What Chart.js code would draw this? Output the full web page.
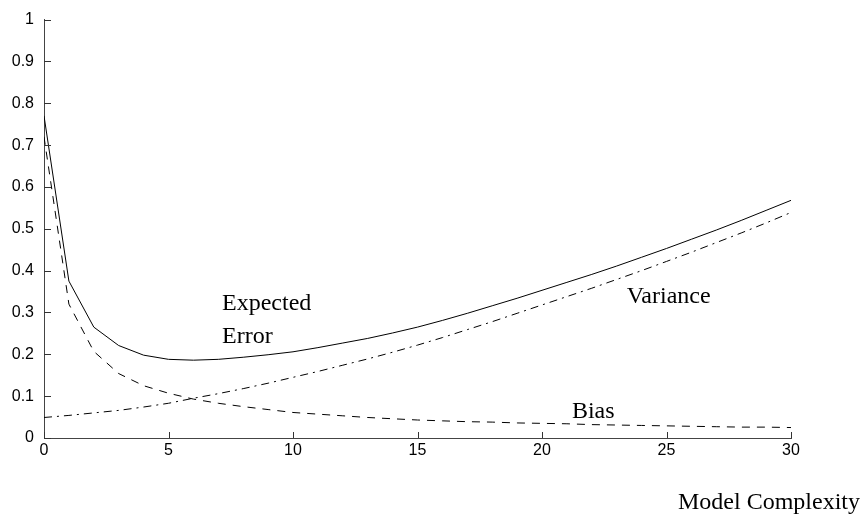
<!DOCTYPE html>
<html>
<head>
<meta charset="utf-8">
<title>Bias / Variance</title>
<script src="https://cdn.jsdelivr.net/npm/chart.js@4/dist/chart.umd.min.js"></script>
<style>
  html, body { margin: 0; padding: 0; background: #fff; }
  canvas { display: block; }
</style>
</head>
<body>
<canvas id="biasVarianceChart" width="864" height="516"></canvas>
<script>
    // Data
    const complexity = [0, 1, 2, 3, 4, 5, 6, 7, 8, 9, 10, 11, 12, 13, 14, 15,
        16, 17, 18, 19, 20, 21, 22, 23, 24, 25, 26, 27, 28, 29, 30];

    const expectedError = [0.770, 0.375, 0.265, 0.221, 0.198, 0.188, 0.186, 0.188, 0.193, 0.199,
        0.206, 0.216, 0.227, 0.238, 0.251, 0.265, 0.281, 0.298, 0.316, 0.334,
        0.353, 0.372, 0.391, 0.411, 0.432, 0.453, 0.475, 0.497, 0.520, 0.544, 0.568];

    const bias = [0.720, 0.320, 0.207, 0.154, 0.125, 0.107, 0.093, 0.083, 0.075, 0.068,
        0.061, 0.057, 0.053, 0.049, 0.046, 0.043, 0.041, 0.039, 0.038, 0.036,
        0.035, 0.034, 0.032, 0.031, 0.030, 0.029, 0.028, 0.027, 0.026, 0.026, 0.025];

    const variance = [0.049, 0.054, 0.060, 0.066, 0.074, 0.083, 0.095, 0.106, 0.118, 0.131,
        0.145, 0.159, 0.174, 0.189, 0.205, 0.222, 0.240, 0.259, 0.278, 0.298,
        0.318, 0.338, 0.358, 0.379, 0.400, 0.422, 0.444, 0.467, 0.490, 0.514, 0.539];

    const xTicks = [0, 5, 10, 15, 20, 25, 30];
    const yTicks = [0, 0.1, 0.2, 0.3, 0.4, 0.5, 0.6, 0.7, 0.8, 0.9, 1];
    const yTickLabels = ['0', '0.1', '0.2', '0.3', '0.4', '0.5', '0.6', '0.7', '0.8', '0.9', '1'];

    // Text labels placed in data coordinates
    const notes = [
        { text: 'Expected', x: 7.15, y: 0.305, align: 'left' },
        { text: 'Error', x: 7.15, y: 0.228, align: 'left' },
        { text: 'Variance', x: 23.4, y: 0.323, align: 'left' },
        { text: 'Bias', x: 21.2, y: 0.047, align: 'left' },
        { text: 'Model Complexity', x: 32.77, y: -0.169, align: 'right' }
    ];

    const toPoints = values => complexity.map((c, i) => ({ x: c, y: values[i] }));

    const axisColor = '#444';
    const tickFont = { family: '"Liberation Sans", Arial, sans-serif', size: 16 };

    // Inward tick marks + text notes
    const matlabLook = {
        id: 'matlabLook',
        afterDraw(chart) {
            const ctx = chart.ctx;
            const xs = chart.scales.x;
            const ys = chart.scales.y;
            const area = chart.chartArea;
            ctx.save();
            ctx.strokeStyle = '#333';
            ctx.lineWidth = 1;
            ctx.beginPath();
            yTicks.forEach(v => {
                const py = Math.round(ys.getPixelForValue(v)) + 0.5;
                ctx.moveTo(area.left, py);
                ctx.lineTo(area.left + 7, py);
            });
            xTicks.forEach(v => {
                const px = Math.round(xs.getPixelForValue(v)) + 0.5;
                ctx.moveTo(px, area.bottom);
                ctx.lineTo(px, area.bottom - 6);
            });
            ctx.stroke();

            ctx.fillStyle = '#000';
            ctx.font = '24px "Liberation Serif", "Times New Roman", serif';
            ctx.textBaseline = 'alphabetic';
            notes.forEach(n => {
                ctx.textAlign = n.align;
                ctx.fillText(n.text, xs.getPixelForValue(n.x), ys.getPixelForValue(n.y));
            });
            ctx.restore();
        }
    };

    const lineStyle = {
        borderColor: '#000',
        borderWidth: 1,
        pointRadius: 0,
        tension: 0,
        fill: false
    };

    const ctx = document.getElementById('biasVarianceChart').getContext('2d');
    const chart = new Chart(ctx, {
        type: 'line',
        data: {
            datasets: [
                { ...lineStyle, label: 'Expected Error', data: toPoints(expectedError) },
                { ...lineStyle, label: 'Bias', data: toPoints(bias), borderDash: [8, 7] },
                { ...lineStyle, label: 'Variance', data: toPoints(variance), borderDash: [8, 5, 2, 5] }
            ]
        },
        options: {
            responsive: false,
            animation: false,
            devicePixelRatio: 1,
            layout: { padding: { top: 11, right: 73, bottom: 0, left: 0 } },
            plugins: {
                legend: { display: false },
                tooltip: { enabled: false }
            },
            scales: {
                x: {
                    type: 'linear',
                    min: 0,
                    max: 30,
                    afterBuildTicks: scale => { scale.ticks = xTicks.map(v => ({ value: v })); },
                    afterFit: scale => { scale.height = 78; },
                    grid: { display: true, drawOnChartArea: false, drawTicks: false },
                    border: { display: true, color: axisColor, width: 1 },
                    ticks: { color: '#000', font: tickFont, padding: 3, maxRotation: 0,
                        callback: value => String(value) }
                },
                y: {
                    min: 0,
                    max: 1,
                    afterBuildTicks: scale => { scale.ticks = yTicks.map(v => ({ value: v })); },
                    afterFit: scale => { scale.width = 44; },
                    grid: { display: true, drawOnChartArea: false, drawTicks: false },
                    border: { display: true, color: axisColor, width: 1 },
                    ticks: { color: '#000', font: tickFont, padding: 10,
                        callback: (value, index) => yTickLabels[index] }
                }
            }
        },
        plugins: [matlabLook]
    });
</script>
</body>
</html>
